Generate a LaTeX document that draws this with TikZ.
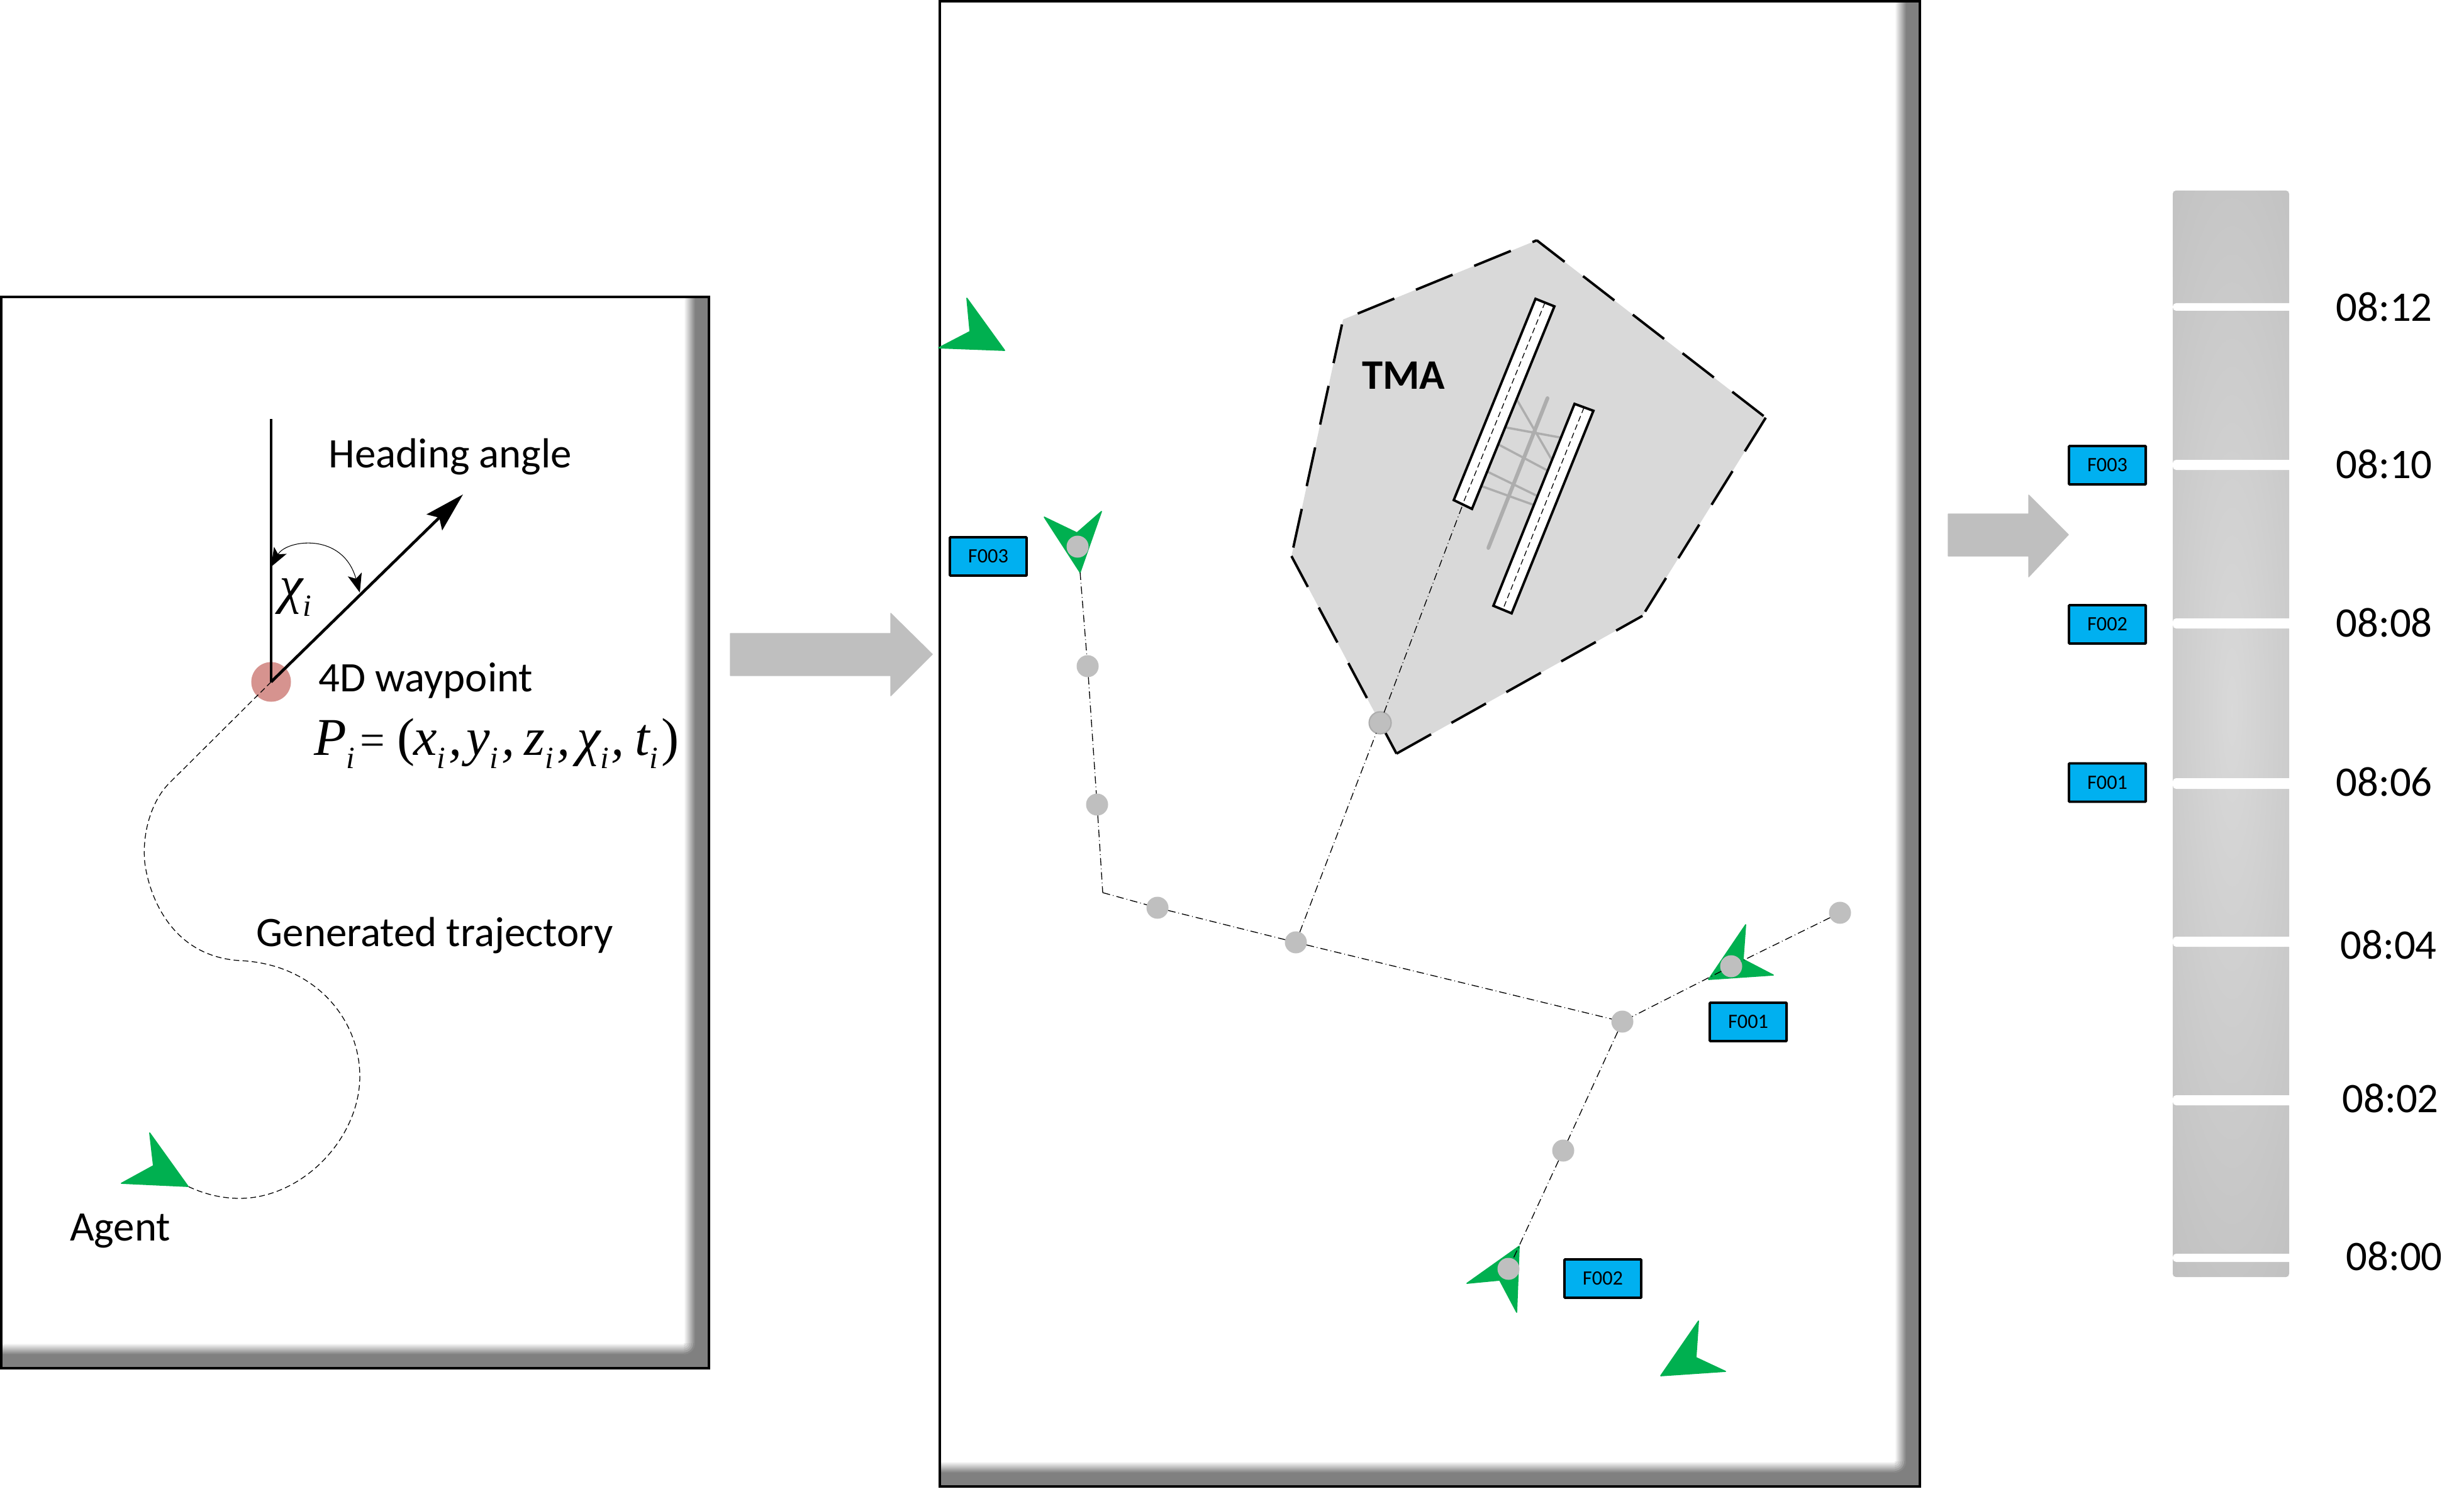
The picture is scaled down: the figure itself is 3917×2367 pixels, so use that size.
\documentclass[tikz,border=0pt]{standalone}
\usepackage{fontspec}
\setmainfont{Carlito}
\newfontfamily\tms{Liberation Serif}
\usetikzlibrary{arrows.meta}
\definecolor{fg}{HTML}{808080}
\definecolor{bargray}{HTML}{BFBFBF}
\definecolor{planegreen}{HTML}{00B050}
\definecolor{tagblue}{HTML}{00B0F0}
\definecolor{tmafill}{HTML}{D9D9D9}
\definecolor{wpred}{HTML}{D6938F}
\newlength{\pxu}\setlength{\pxu}{0.28453pt}
\newcommand{\subi}{\raisebox{-6pt}{\fontsize{14}{14}\selectfont\itshape i}}
\newcommand{\slot}[2]{\makebox[#1\pxu][l]{#2}}
\newcommand{\panel}[4]{%
  \fill[fg] (#1,#2) rectangle (#3,#4);
  \fill[white] (#1,#2) rectangle ({#3-40},{#4-40});
  \shade[left color=white,right color=fg] ({#3-40},#2) rectangle ({#3-22},{#4-40});
  \shade[top color=white,bottom color=fg] (#1,{#4-40}) rectangle ({#3-40},{#4-22});
  \begin{scope}
    \clip ({#3-40},{#4-40}) rectangle ({#3-22},{#4-22});
    \foreach \rr/\pp in {18/8,15/25,12/40,9/55,6/70,3/85}{
      \fill[white!\pp!fg] ({#3-40},{#4-40}) circle[radius=\rr];
    }
  \end{scope}
  \draw[line width=1.4pt,black] (#1,#2) rectangle (#3,#4);
}
\tikzset{
  x=0.01cm,y=-0.01cm,
  plane/.style={fill=planegreen,draw=planegreen,line width=0.5pt,line join=round},
  bigarrow/.style={fill=bargray,draw=bargray,line width=0.4pt,line join=round},
  wpdot/.style={circle,fill=bargray,inner sep=0pt,outer sep=0pt,minimum size=0.35cm},
  tag/.style={draw=black,fill=tagblue,line width=1.1pt,rounded corners=0.3pt,inner sep=0pt,outer sep=0pt,
              minimum width=1.22cm,minimum height=0.61cm,font=\fontsize{9.2}{11}\selectfont},
  lbl/.style={inner sep=0pt,outer sep=0pt,font=\fontsize{19}{23}\selectfont},
  mathlbl/.style={inner sep=0pt,outer sep=0pt,anchor=base west,font=\tms\fontsize{24}{28}\selectfont},
  route/.style={line width=0.38pt,dash pattern=on 3.4pt off 1.35pt on 0.3pt off 1.35pt},
  traj/.style={line width=0.36pt,dash pattern=on 2.6pt off 1.5pt},
  tmaedge/.style={line width=1.1pt,dash pattern=on 17.9pt off 10.55pt},
  rwy/.style={draw=black,fill=white,line width=1.1pt,line join=miter},
  rwyline/.style={line width=0.36pt,dash pattern=on 2.6pt off 1.5pt},
  taxi/.style={draw=black!32,line width=1pt},
  bartick/.style={fill=white,rounded corners=1.5pt},
  sharp/.style={-{Stealth[length=18pt,width=10pt,inset=3pt]}},
  arcs/.style={{Stealth[length=8.5pt,width=6.5pt,inset=2pt]}-{Stealth[length=8.5pt,width=6.5pt,inset=2pt]}},
}
\begin{document}
\begin{tikzpicture}
\useasboundingbox (0,0) rectangle (3917,2367);
% ---------- panels
\panel{2}{472}{1127}{2175}
\panel{1494}{2}{3052}{2363}
% ---------- big arrows
\path[bigarrow] (1161,1007) -- (1416,1007) -- (1416,975) -- (1482,1040) -- (1416,1106) -- (1416,1074) -- (1161,1074) -- cycle;
\path[bigarrow] (3097,817) -- (3225,817) -- (3225,787) -- (3288,850) -- (3225,917) -- (3225,884) -- (3097,884) -- cycle;
% ---------- left panel
\node[circle,fill=wpred,inner sep=0pt,outer sep=0pt,minimum size=0.63cm] (wp) at (431,1084) {};
\coordinate (north) at (431,666);
\coordinate (headtip) at (736,786);
\coordinate (arcA) at (431,901);
\coordinate (arcB) at (572,942);
\coordinate (agenttail) at (299,1886);
\draw[line width=1.1pt] (wp.center) -- (north);
\draw[line width=1.3pt,sharp] (wp.center) -- (headtip);
\draw[line width=0.3pt,arcs] (arcA) .. controls (455,858) and (545,845) .. (arcB);
\draw[traj] (wp.center) -- (268,1246) .. controls (240,1275) and (226,1325) .. (230,1370)
  .. controls (236,1420) and (270,1520) .. (381,1527)
  .. controls (500,1532) and (572,1620) .. (572,1711)
  .. controls (572,1810) and (480,1905) .. (381,1905)
  .. controls (350,1905) and (322,1897) .. (agenttail);
\path[plane] (238,1801) -- (244,1853) -- (193,1881) -- (299,1886) -- cycle;
\node[lbl] (heading) at (716,726) {Heading angle};
\node[lbl] (wplabel) at (677,1082) {4D waypoint};
\node[lbl] (genlabel) at (691,1487) {Generated trajectory};
\node[lbl] (agentlabel) at (191,1957) {Agent};
\node[mathlbl] (chilabel) at (444,958) {\itshape χ\subi};
\node[mathlbl] (formula) at (499,1200)
  {\slot{73}{\itshape P\subi}\slot{59}{\fontsize{20}{24}\selectfont =}\slot{26}{(}\slot{84}{\itshape x\subi\hspace{1.5pt},}\slot{92}{\itshape y\subi\hspace{1.5pt},}\slot{84}{\itshape z\subi\hspace{1.5pt},}\slot{92}{\itshape χ\subi\hspace{1pt},}\slot{42}{\itshape t\subi}{)}};
% ---------- TMA
\path[fill=tmafill] (2443,382) -- (2807,664) -- (2611,979) -- (2220,1198) -- (2053,884) -- (2135,508) -- cycle;
\coordinate (tmaN) at (2443,382);
\coordinate (tmaE) at (2807,664);
\coordinate (tmaSE) at (2611,979);
\coordinate (tmaS) at (2220,1198);
\coordinate (tmaW) at (2053,884);
\coordinate (tmaNW) at (2135,508);
\draw[tmaedge,dash phase=2pt] (tmaN) -- (tmaE);
\draw[tmaedge] (tmaE) -- (tmaSE);
\draw[tmaedge] (tmaS) -- (tmaSE);
\draw[tmaedge] (tmaS) -- (tmaW);
\draw[tmaedge,dash phase=26.2pt] (tmaNW) -- (tmaW);
\draw[tmaedge,dash phase=21.3pt] (tmaNW) -- (tmaN);
\node[lbl,font=\fontsize{19}{23}\selectfont\bfseries] (tma) at (2231,597) {TMA};
\draw[taxi,line width=1.7pt,line cap=round] (2460,633) -- (2366,871);
\draw[taxi] (2410,633) -- (2468,733);
\draw[taxi] (2391,679) -- (2483,696);
\draw[taxi] (2381,706) -- (2462,749);
\draw[taxi] (2363,749) -- (2445,789);
\draw[taxi] (2353,772) -- (2439,803);
\path[rwy] (2441,475) -- (2471,487) -- (2340,809) -- (2311,795) -- cycle;
\draw[rwyline] (2456,481) -- (2325,802);
\path[rwy] (2503,642) -- (2533,653) -- (2403,975) -- (2374,963) -- cycle;
\draw[rwyline] (2518,648) -- (2389,969);
% ---------- aircraft
\path[plane] (1537,474) -- (1542,527) -- (1492,553) -- (1597,557) -- cycle;
\path[plane] (1660,822) -- (1712,847) -- (1751,813) -- (1717,910) -- cycle;
\path[plane] (2775,1470) -- (2771,1525) -- (2819,1550) -- (2716,1557) -- cycle;
\path[plane] (2415,1981) -- (2411,2086) -- (2384,2035) -- (2332,2040) -- cycle;
\path[plane] (2700,2100) -- (2696,2158) -- (2743,2180) -- (2640,2187) -- cycle;
% ---------- route nodes
\node[wpdot] (a1) at (1713,869) {};
\node[wpdot] (a2) at (1729,1059) {};
\node[wpdot] (a3) at (1744,1279) {};
\coordinate (bend) at (1753,1419);
\node[wpdot] (a4) at (1840,1443) {};
\node[wpdot] (a5) at (2060,1498) {};
\node[wpdot] (a6) at (2579,1624) {};
\node[wpdot] (b1) at (2925,1451) {};
\node[wpdot] (b2) at (2752,1536) {};
\node[wpdot] (c1) at (2485,1829) {};
\node[wpdot] (c2) at (2398,2017) {};
\node[wpdot,draw=black!32,line width=0.6pt] (gate) at (2194,1149) {};
\coordinate (f3tail) at (1717,910);
\coordinate (rwyend) at (2325,803);
\draw[route] (f3tail) -- (a2);
\draw[route] (a2) -- (a3);
\draw[route] (a3) -- (bend);
\draw[route] (bend) -- (a4);
\draw[route] (a4) -- (a5);
\draw[route] (a5) -- (a6);
\draw[route] (b1) -- (b2);
\draw[route] (b2) -- (a6);
\draw[route] (a6) -- (c1);
\draw[route] (c1) -- (c2);
\draw[route] (a5) -- (gate);
\draw[route] (gate) -- (rwyend);
% ---------- flight tags
\node[tag] (t3a) at (1571,884.5) {F003};
\node[tag] (t1a) at (2779,1624.5) {F001};
\node[tag] (t2a) at (2548,2032.5) {F002};
\node[tag] (t3b) at (3350,739.5) {F003};
\node[tag] (t2b) at (3350,992.5) {F002};
\node[tag] (t1b) at (3350,1244) {F001};
% ---------- time bar
\begin{scope}
  \clip[rounded corners=1.5pt] (3454,303) rectangle (3639,2030);
  \fill[bargray] (3454,303) rectangle (3639,2030);
  \shade[inner color=black!15,outer color=bargray] (3548,1130) ellipse[x radius=185,y radius=1150];
\end{scope}
\fill[bartick] (3454,482) rectangle (3650,494);
\fill[bartick] (3454,731) rectangle (3650,747);
\fill[bartick] (3454,983) rectangle (3650,999);
\fill[bartick] (3454,1237) rectangle (3650,1254);
\fill[bartick] (3454,1489) rectangle (3650,1505);
\fill[bartick] (3454,1741) rectangle (3650,1757);
\fill[bartick] (3454,1993) rectangle (3650,2006);
\node[lbl] (tm12) at (3790,488) {08:12};
\node[lbl] (tm10) at (3790,738) {08:10};
\node[lbl] (tm08) at (3790,990) {08:08};
\node[lbl] (tm06) at (3790,1243) {08:06};
\node[lbl] (tm04) at (3797,1502) {08:04};
\node[lbl] (tm02) at (3800,1746) {08:02};
\node[lbl] (tm00) at (3806,1997) {08:00};
\end{tikzpicture}
\end{document}
